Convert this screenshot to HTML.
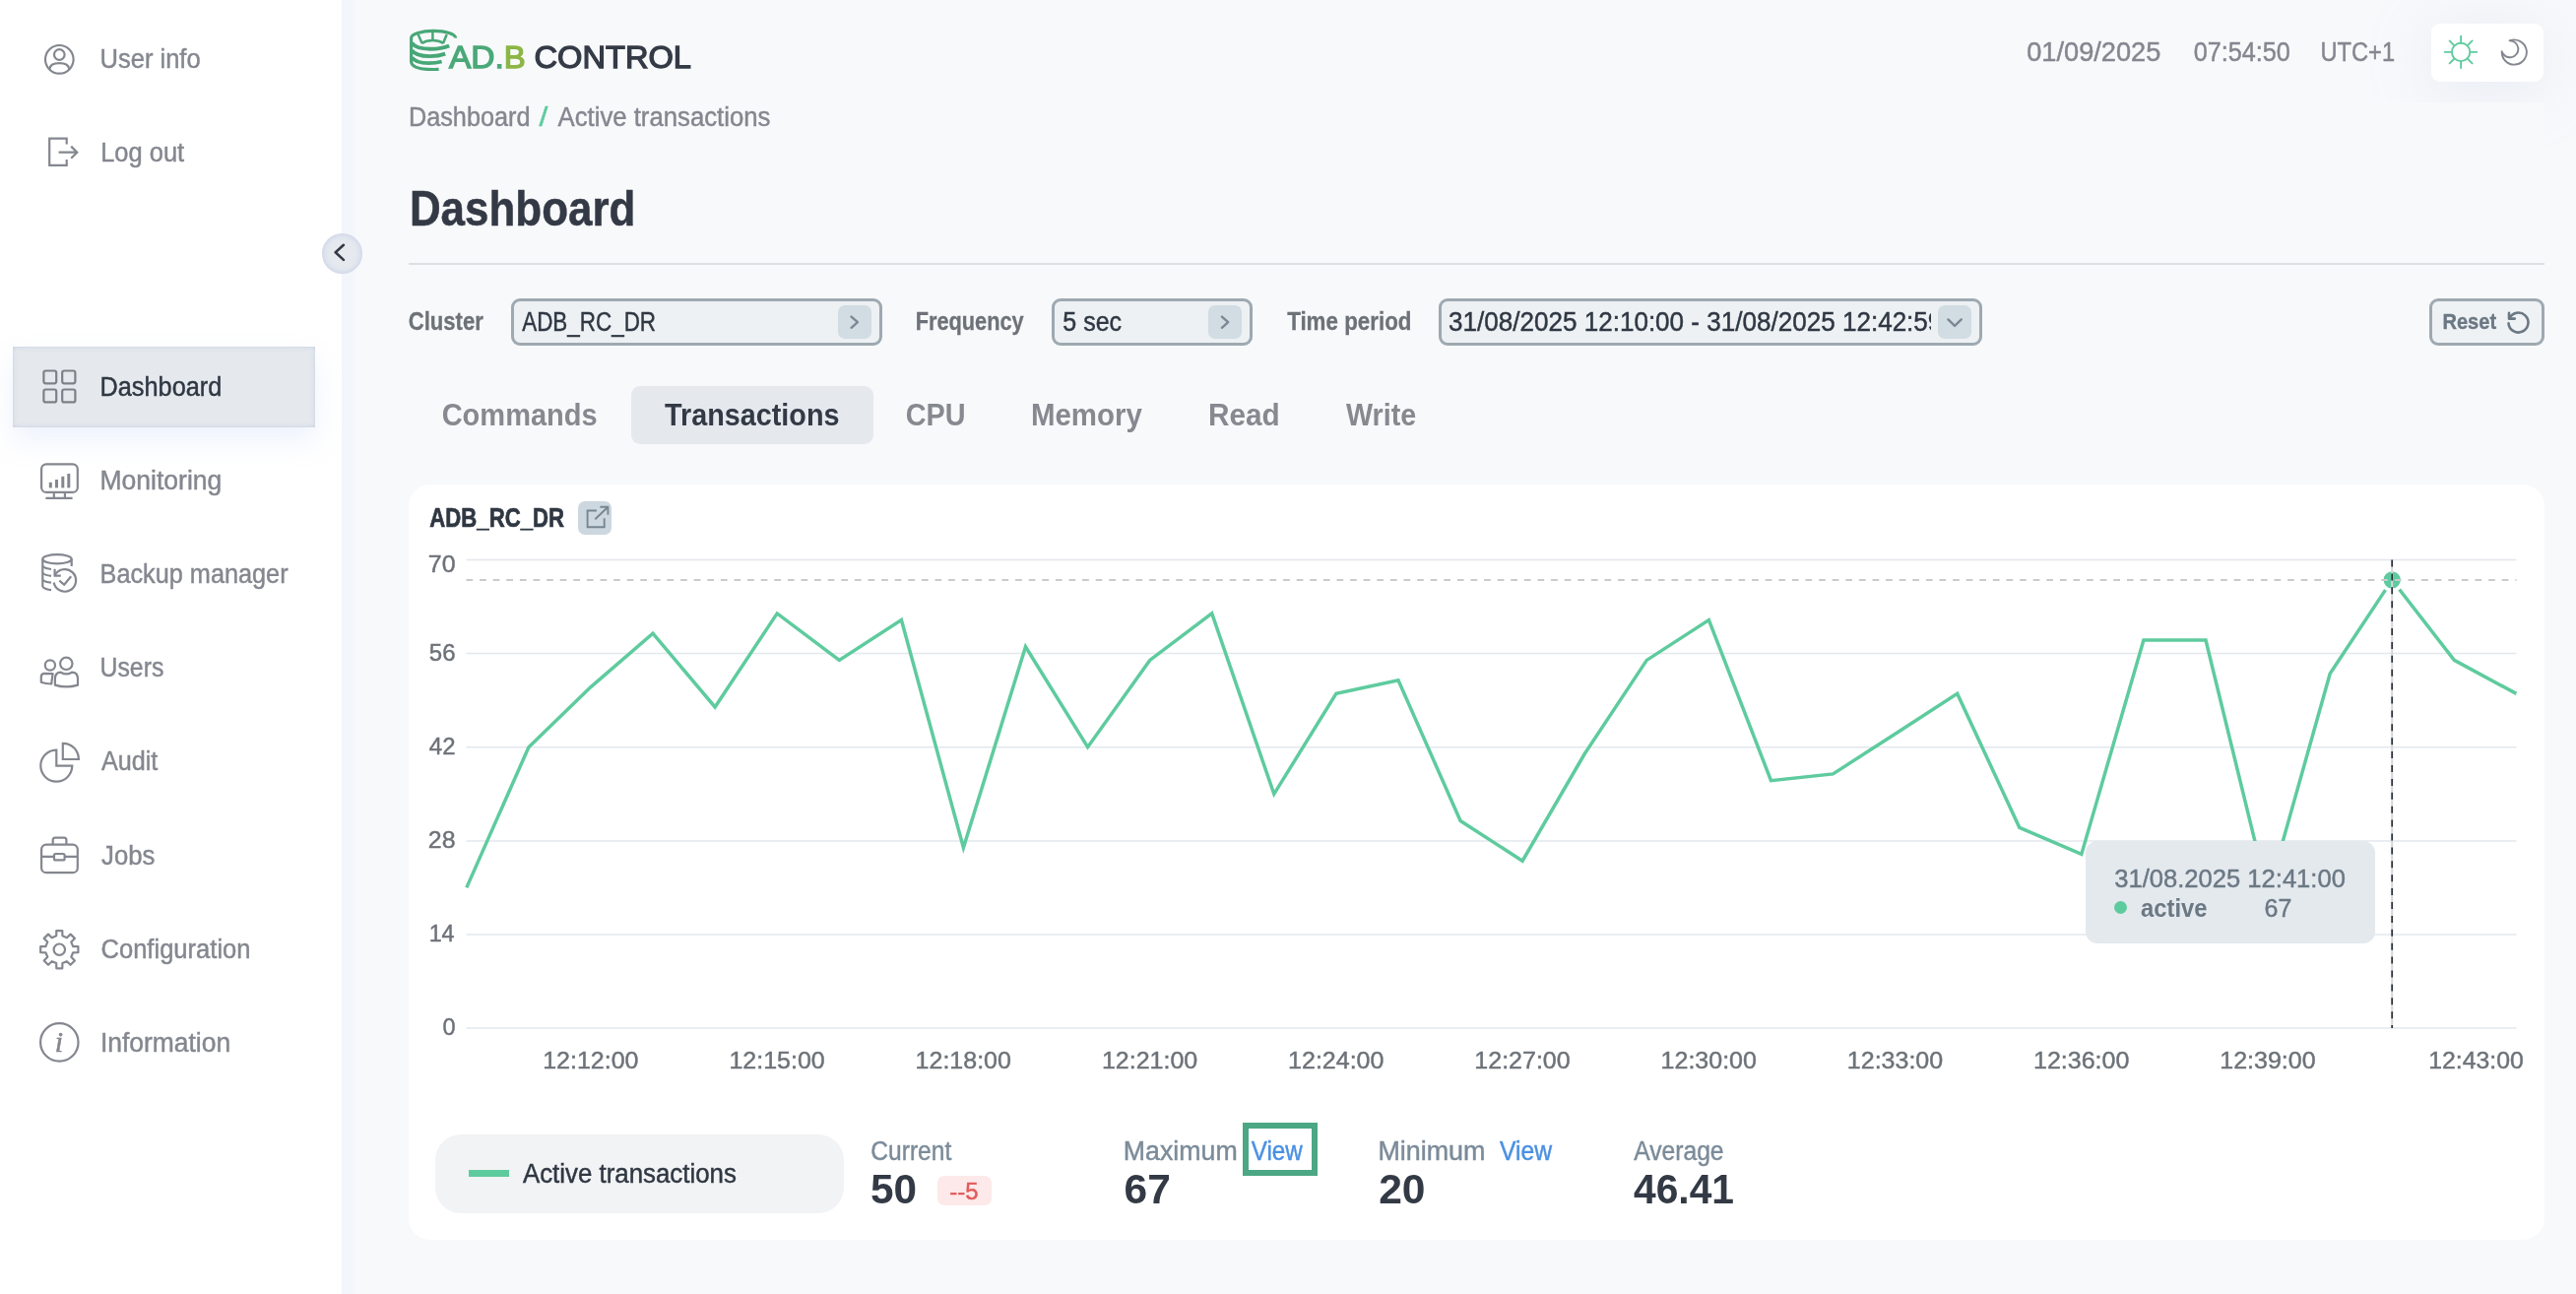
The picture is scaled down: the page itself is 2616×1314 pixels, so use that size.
<!DOCTYPE html>
<html lang="en">
<head>
<meta charset="utf-8">
<title>ADB Control - Dashboard</title>
<style>
*{box-sizing:border-box;margin:0;padding:0}
html,body{width:2616px;height:1314px;overflow:hidden}
body{background:#f8f9fb;font-family:"Liberation Sans",sans-serif;position:relative}
.abs{position:absolute}
#sidebar{left:0;top:0;width:347px;height:1314px;background:#fff}
#sideband{left:347px;top:0;width:15px;height:1314px;background:linear-gradient(to right,#f2f5fa 0,#f3f6fa 75%,#f8f9fb 100%)}
#active{left:13px;top:352px;width:307px;height:82px;background:#e5e9ed;box-shadow:inset 0 0 5px rgba(165,172,218,.45),0 14px 28px rgba(150,175,235,.17)}
#collapse{left:327.1px;top:237.1px;width:40.8px;height:40.8px;border-radius:50%;background:#e6eaef;box-shadow:inset 0 0 7px rgba(168,174,222,.55)}
#hr{left:415px;top:267px;width:2169px;height:2px;background:#dcdfe3}
#mainbg{left:416px;top:104px;width:2168px;height:1210px;background:#f8f9fb}
#toggle{left:2468.9px;top:23.8px;width:114.4px;height:59.5px;border-radius:9px;background:#fff;box-shadow:0 8px 64px rgba(176,193,226,.26)}
.sel{border:3px solid #9ea9b1;border-radius:9px;background:#edf1f4;height:48px;top:303px}
.sbtn{width:34px;height:34px;border-radius:7px;background:#d2dce3;top:310px}
#reset{left:2467px;top:303px;width:117.2px;height:48px;border:3px solid #9ea9b1;border-radius:9px;background:#eff2f5}
#tabact{left:641px;top:392px;width:246px;height:58.5px;border-radius:9px;background:#e5e9ee}
#card{left:415px;top:492px;width:2169px;height:767px;border-radius:22px;background:#fff}
#extbtn{left:587.3px;top:509px;width:33.7px;height:34px;border-radius:7px;background:#cdd7df}
#tip{left:2118px;top:853.7px;width:294.3px;height:104.5px;border-radius:12px;background:#e4e9ee}
#tipdot{left:2147.1px;top:914.6px;width:13px;height:13px;border-radius:50%;background:#5ecb9e}
#legend{left:442px;top:1151.7px;width:415px;height:80.3px;border-radius:26px;background:#f2f3f5}
#legline{left:475.8px;top:1188px;width:41.2px;height:7.4px;background:#5ecb9e}
#badge{left:952px;top:1194px;width:55px;height:29.7px;border-radius:7px;background:#fde9e9}
#viewbox{left:1262px;top:1140px;width:76px;height:54px;border:6px solid #4ca784}
#txt{left:0;top:0;width:2616px;height:1314px;will-change:transform}
svg.ov{position:absolute;left:0;top:0;width:2616px;height:1314px;overflow:visible}
</style>
</head>
<body>
<div id="sidebar" class="abs"></div>
<div id="sideband" class="abs"></div>
<div id="active" class="abs"></div>
<div id="collapse" class="abs"></div>
<div id="toggle" class="abs"></div>
<div id="mainbg" class="abs"></div>
<div id="hr" class="abs"></div>

<div class="abs sel" style="left:519px;width:377px"></div>
<div class="abs sbtn" style="left:851px"></div>
<div class="abs sel" style="left:1067.7px;width:204px"></div>
<div class="abs sbtn" style="left:1227.3px"></div>
<div class="abs sel" style="left:1461.3px;width:551.5px"></div>
<div class="abs sbtn" style="left:1968.2px"></div>
<div id="reset" class="abs"></div>
<div id="tabact" class="abs"></div>

<div id="card" class="abs"></div>
<div id="extbtn" class="abs"></div>
<div id="legend" class="abs"></div>
<div id="legline" class="abs"></div>
<div id="badge" class="abs"></div>
<div id="viewbox" class="abs"></div>

<svg class="ov" viewBox="0 0 2616 1314">
<g id="chart">
<line x1="473.5" y1="568.5" x2="2555.5" y2="568.5" stroke="#e3e8ee" stroke-width="1.5"/>
<line x1="473.5" y1="663.6" x2="2555.5" y2="663.6" stroke="#e3e8ee" stroke-width="1.5"/>
<line x1="473.5" y1="758.7" x2="2555.5" y2="758.7" stroke="#e3e8ee" stroke-width="1.5"/>
<line x1="473.5" y1="853.9" x2="2555.5" y2="853.9" stroke="#e3e8ee" stroke-width="1.5"/>
<line x1="473.5" y1="949.0" x2="2555.5" y2="949.0" stroke="#e3e8ee" stroke-width="1.5"/>
<line x1="473.5" y1="1044.1" x2="2555.5" y2="1044.1" stroke="#e3e8ee" stroke-width="1.5"/>
<polyline points="473.8,901.4 536.9,758.7 600.0,697.6 663.0,643.2 726.1,718.0 789.2,622.9 852.3,670.4 915.4,629.6 978.4,860.7 1041.5,656.8 1104.6,758.7 1167.7,670.4 1230.7,622.9 1293.8,806.3 1356.9,704.4 1420.0,690.8 1483.1,833.5 1546.1,874.2 1609.2,765.5 1672.3,670.4 1735.4,629.6 1798.5,792.7 1861.5,785.9 1924.6,745.2 1987.7,704.4 2050.8,840.3 2113.8,867.4 2176.9,650.0 2240.0,650.0 2303.1,908.2 2366.2,684.0 2429.2,588.9 2492.3,670.4 2555.4,704.4" fill="none" stroke="#5ecb9e" stroke-width="3.5" stroke-linejoin="miter"/>
<circle cx="2429.2" cy="588.9" r="12.3" fill="#fff"/>
<circle cx="2429.2" cy="588.9" r="8.6" fill="#5ecb9e"/>
<line x1="2429.2" y1="568.5" x2="2429.2" y2="1044.1" stroke="#d6d6d6" stroke-width="2"/>
<line x1="2429.2" y1="568.5" x2="2429.2" y2="1044.1" stroke="#2b303a" stroke-width="1.7" stroke-dasharray="7 6.9"/>
<line x1="473.5" y1="588.9" x2="2555.5" y2="588.9" stroke="#cacaca" stroke-width="2" stroke-dasharray="6.7 6.9"/>
</g>
<g id="icons" fill="none" stroke="#84878f" stroke-width="2.2" stroke-linecap="butt" stroke-linejoin="round">
<circle cx="60.3" cy="60.3" r="14.3"/>
<circle cx="60.3" cy="55.5" r="5.3"/>
<path d="M50.3 70.3 C50.6 66.4 54.6 64.1 60.3 64.1 C66 64.1 70 66.4 70.3 70.3"/>
<path d="M67.7 146.6 V140.6 H50.2 V167.8 H67.7 V161.9" stroke-linejoin="miter"/>
<path d="M59.6 154.7 H77.6 M72.2 148.6 L78.3 154.7 L72.2 160.8" stroke-linejoin="miter"/>
<path d="M348.9 248.8 L340.7 256.2 L348.9 263.9" stroke="#333a45" stroke-width="2.6" stroke-linejoin="round" stroke-linecap="round"/>
<g stroke="#7c8189">
<rect x="44.4" y="376.5" width="12.8" height="12.8" rx="2"/>
<rect x="63.2" y="376.5" width="13.2" height="12.8" rx="2"/>
<rect x="44.4" y="395.5" width="12.8" height="12.9" rx="2"/>
<rect x="63.2" y="395.5" width="13.2" height="12.9" rx="2"/>
</g>
<rect x="42.1" y="471.3" width="36.7" height="28.6" rx="5"/>
<path d="M54.8 500 V505.6 M65.9 500 V505.6 M46.4 505.8 H73.6"/>
<g fill="#84878f" stroke="none">
<rect x="49.8" y="489.8" width="3" height="5.6"/>
<rect x="56" y="487" width="3" height="8.4"/>
<rect x="62.3" y="483.8" width="3" height="11.6"/>
<rect x="68.3" y="481" width="3" height="14.4"/>
</g>
<ellipse cx="58" cy="567.8" rx="14.7" ry="4.6"/>
<path d="M43.3 567.8 V596 M72.7 567.8 V575"/>
<path d="M43.3 575.2 Q46 577.4 52 578 M43.3 582 Q46 584.2 52 584.8 M43.3 588.9 Q46 591.1 52 591.7 M43.3 596 Q46 598.4 52 599.2"/>
<path d="M55.6 584.5 A11.3 11.3 0 1 1 54.7 591.5"/>
<path d="M55.6 577.8 V584.6 H61.8" stroke-linejoin="miter"/>
<path d="M60.3 589.6 L65.2 593.8 L72.2 585.3" stroke-linejoin="miter"/>
<circle cx="50.9" cy="675.5" r="5.1"/>
<circle cx="67.3" cy="673.8" r="6.2"/>
<path d="M55.9 695.6 V689.4 Q55.9 682.7 61.9 682.7 A10.3 10.3 0 0 0 72.9 682.7 Q79 682.7 79 689.4 V695.6 Q67.3 699.2 55.9 695.6 Z"/>
<path d="M41.8 692.7 V687.3 Q41.8 683.8 45.3 683.8 L53.6 684.1 L52.2 694.5 Q46.2 694.4 41.8 692.7 Z"/>
<path d="M57.3 777.6 V761.6 A16 16 0 1 0 73.3 777.6 Z" stroke-linejoin="miter"/>
<path d="M63.8 771 V754.8 A16.2 16.2 0 0 1 80 771 Z" stroke-linejoin="miter"/>
<rect x="42.1" y="857.6" width="36.7" height="28.6" rx="5"/>
<path d="M53.7 857.6 V853 Q53.7 850.6 56.1 850.6 H65 Q67.4 850.6 67.4 853 V857.6"/>
<path d="M42.1 869.9 H54.5 M66 869.9 H78.8"/>
<rect x="55" y="867" width="10.6" height="6.4" rx="1.5"/>
<path d="M57.2 950.3 L57.3 945.1 L63.3 945.1 L63.4 950.3 L67.9 952.2 L71.6 948.6 L75.9 952.9 L72.3 956.6 L74.2 961.1 L79.4 961.2 L79.4 967.2 L74.2 967.3 L72.3 971.8 L75.9 975.5 L71.6 979.8 L67.9 976.2 L63.4 978.1 L63.3 983.3 L57.3 983.3 L57.2 978.1 L52.7 976.2 L49.0 979.8 L44.7 975.5 L48.3 971.8 L46.4 967.3 L41.2 967.2 L41.2 961.2 L46.4 961.1 L48.3 956.6 L44.7 952.9 L49.0 948.6 L52.7 952.2Z"/>
<circle cx="60.3" cy="964.2" r="5.7"/>
<circle cx="60.3" cy="1058.4" r="19.2"/>
<g stroke="#48a777" stroke-linecap="butt" stroke-linejoin="round">
<path d="M462.6 38.6 A22.5 7.2 0 0 0 417.6 38.5 V62.7 C417.9 67.8 426 70.3 433.4 70.35 C438 70.5 442 70.5 445.6 70.4" stroke-width="3.1"/>
<path d="M418.3 43.6 C421 48 429 49.75 437.1 49.75 C445 49.75 451.5 48.5 456.2 46.5" stroke-width="3.8"/>
<path d="M418.3 51.1 C421 55.3 429 57.05 436.7 57.05 C443 57.05 448 56.1 452.2 54.6" stroke-width="3.8"/>
<path d="M418.3 58.2 C421 62.4 428 64.1 435 64.1 C440.5 64.1 445 63.5 448.6 62.5" stroke-width="3.8"/>
<path d="M424.6 35 L428.6 44 M439.4 32.3 V40.8 M453.7 35 L450 44" stroke-width="2.5"/>
<path d="M428.3 43.9 C431.5 41.9 435.3 41.1 439.4 41.1 C443.5 41.1 447.2 41.9 450.4 43.9" stroke-width="2.5"/>
</g>
<g stroke="#5ecb9e" stroke-width="1.9" stroke-linecap="round">
<circle cx="2499.1" cy="52.9" r="9.2"/>
<path d="M2509.2 52.9 L2515.3 52.9 M2506.2 60.0 L2510.6 64.4 M2499.1 63.0 L2499.1 69.1 M2492.0 60.0 L2487.6 64.4 M2489.0 52.9 L2482.9 52.9 M2492.0 45.8 L2487.6 41.4 M2499.1 42.8 L2499.1 36.7 M2506.2 45.8 L2510.6 41.4"/>
</g>
<path d="M2548.6 41.3 A12.6 12.6 0 1 1 2540.7 52.2 A8.5 8.5 0 1 0 2548.6 41.3 Z" stroke-width="1.9"/>
<g stroke="#7b8894" stroke-width="2.4" stroke-linejoin="round" stroke-linecap="round">
<path d="M864.6 321.6 L870.9 327.2 L864.6 332.8"/>
<path d="M1240.9 321.6 L1247.2 327.2 L1240.9 332.8"/>
<path d="M1978.4 324.4 L1985.1 330.9 L1991.8 324.4"/>
</g>
<g stroke="#6b7884" stroke-width="2.6" stroke-linecap="round">
<path d="M2548.3 323.5 A10 10 0 1 1 2547.5 328.3"/>
<path d="M2548 317.9 V323.6 H2553.8" stroke-linejoin="round"/>
</g>
<g stroke="#778691" stroke-width="1.9" stroke-linejoin="miter">
<path d="M605.9 518.5 H596.6 V535.3 H613.7 V526.3"/>
<path d="M604.3 527.3 L617.2 515 M609.4 514.8 H617.4 V522.8"/>
</g>

</g>
</svg>

<div id="tip" class="abs"></div>
<div id="tipdot" class="abs"></div>

<div id="txt" class="abs">
<svg class="ov" viewBox="0 0 2616 1314" font-family="'Liberation Sans', sans-serif">
<svg x="1462" y="305" width="499" height="44" viewBox="1462 305 499 44" overflow="hidden">
<text x="1471.03" y="335.8" font-size="26.78" fill="#2f3742" stroke="#2f3742" stroke-width="0.45" textLength="501.33" lengthAdjust="spacingAndGlyphs">31/08/2025 12:10:00 - 31/08/2025 12:42:59</text>
</svg>
<text x="55.8" y="1068" font-size="30" font-family="'Liberation Serif', serif" font-style="italic" font-weight="400" fill="#84878f" stroke="#84878f" stroke-width="0.5">i</text>
<text x="101.52" y="68.7" font-size="26.78" font-weight="400" fill="#84878f" textLength="102.10" lengthAdjust="spacingAndGlyphs" stroke="#84878f" stroke-width="0.45">User info</text>
<text x="102.22" y="163.8" font-size="26.78" font-weight="400" fill="#84878f" textLength="84.92" lengthAdjust="spacingAndGlyphs" stroke="#84878f" stroke-width="0.45">Log out</text>
<text x="101.53" y="401.6" font-size="26.78" font-weight="400" fill="#2f3742" textLength="123.78" lengthAdjust="spacingAndGlyphs" stroke="#2f3742" stroke-width="0.45">Dashboard</text>
<text x="101.44" y="497.2" font-size="26.78" font-weight="400" fill="#84878f" textLength="123.91" lengthAdjust="spacingAndGlyphs" stroke="#84878f" stroke-width="0.45">Monitoring</text>
<text x="101.54" y="591.8" font-size="26.78" font-weight="400" fill="#84878f" textLength="191.06" lengthAdjust="spacingAndGlyphs" stroke="#84878f" stroke-width="0.45">Backup manager</text>
<text x="101.57" y="686.9" font-size="26.78" font-weight="400" fill="#84878f" textLength="64.76" lengthAdjust="spacingAndGlyphs" stroke="#84878f" stroke-width="0.45">Users</text>
<text x="102.92" y="781.8" font-size="26.78" font-weight="400" fill="#84878f" textLength="57.42" lengthAdjust="spacingAndGlyphs" stroke="#84878f" stroke-width="0.45">Audit</text>
<text x="103.12" y="877.7" font-size="26.78" font-weight="400" fill="#84878f" textLength="54.22" lengthAdjust="spacingAndGlyphs" stroke="#84878f" stroke-width="0.45">Jobs</text>
<text x="102.47" y="972.7" font-size="26.78" font-weight="400" fill="#84878f" textLength="152.05" lengthAdjust="spacingAndGlyphs" stroke="#84878f" stroke-width="0.45">Configuration</text>
<text x="101.95" y="1067.9" font-size="26.78" font-weight="400" fill="#84878f" textLength="132.20" lengthAdjust="spacingAndGlyphs" stroke="#84878f" stroke-width="0.45">Information</text>
<text x="414.94" y="128.1" font-size="26.78" font-weight="400" fill="#84878f" textLength="123.57" lengthAdjust="spacingAndGlyphs" stroke="#84878f" stroke-width="0.45">Dashboard</text>
<text x="547.43" y="128.1" font-size="26.78" font-weight="400" fill="#5ecb9e" textLength="8.88" lengthAdjust="spacingAndGlyphs" stroke="#5ecb9e" stroke-width="0.45">/</text>
<text x="566.52" y="128.1" font-size="26.78" font-weight="400" fill="#84878f" textLength="215.92" lengthAdjust="spacingAndGlyphs" stroke="#84878f" stroke-width="0.45">Active transactions</text>
<text x="415.88" y="229.0" font-size="49.44" font-weight="700" fill="#333a45" textLength="229.61" lengthAdjust="spacingAndGlyphs" stroke="#333a45" stroke-width="0.5">Dashboard</text>
<text x="2058.21" y="62.4" font-size="26.78" font-weight="400" fill="#84878f" textLength="136.17" lengthAdjust="spacingAndGlyphs" stroke="#84878f" stroke-width="0.45">01/09/2025</text>
<text x="2227.68" y="62.4" font-size="26.78" font-weight="400" fill="#84878f" textLength="98.13" lengthAdjust="spacingAndGlyphs" stroke="#84878f" stroke-width="0.45">07:54:50</text>
<text x="2356.45" y="62.4" font-size="26.78" font-weight="400" fill="#84878f" textLength="75.70" lengthAdjust="spacingAndGlyphs" stroke="#84878f" stroke-width="0.45">UTC+1</text>
<text x="455.95" y="68.8" font-size="31.93" font-weight="400" fill="#4aa978" textLength="55.81" lengthAdjust="spacingAndGlyphs" stroke="#4aa978" stroke-width="1.3">AD.</text>
<text x="511.68" y="68.8" font-size="31.93" font-weight="400" fill="#8db645" textLength="22.00" lengthAdjust="spacingAndGlyphs" stroke="#8db645" stroke-width="1.3">B</text>
<text x="542.53" y="68.8" font-size="31.93" font-weight="400" fill="#343b46" textLength="159.49" lengthAdjust="spacingAndGlyphs" stroke="#343b46" stroke-width="1.3">CONTROL</text>
<text x="414.69" y="334.9" font-size="25.75" font-weight="700" fill="#6d7278" textLength="76.08" lengthAdjust="spacingAndGlyphs" stroke="#6d7278" stroke-width="0.3">Cluster</text>
<text x="929.71" y="334.9" font-size="25.75" font-weight="700" fill="#6d7278" textLength="109.97" lengthAdjust="spacingAndGlyphs" stroke="#6d7278" stroke-width="0.3">Frequency</text>
<text x="1307.15" y="334.9" font-size="25.75" font-weight="700" fill="#6d7278" textLength="126.33" lengthAdjust="spacingAndGlyphs" stroke="#6d7278" stroke-width="0.3">Time period</text>
<text x="530.23" y="335.8" font-size="26.78" font-weight="400" fill="#2f3742" textLength="135.83" lengthAdjust="spacingAndGlyphs" stroke="#2f3742" stroke-width="0.45">ADB_RC_DR</text>
<text x="1079.29" y="335.8" font-size="26.78" font-weight="400" fill="#2f3742" textLength="59.84" lengthAdjust="spacingAndGlyphs" stroke="#2f3742" stroke-width="0.45">5 sec</text>
<text x="2480.39" y="333.9" font-size="22.66" font-weight="700" fill="#6b7884" textLength="54.73" lengthAdjust="spacingAndGlyphs" stroke="#6b7884" stroke-width="0.35">Reset</text>
<text x="448.66" y="431.7" font-size="30.9" font-weight="700" fill="#86898f" textLength="158.05" lengthAdjust="spacingAndGlyphs">Commands</text>
<text x="675.00" y="431.7" font-size="30.9" font-weight="700" fill="#333a45" textLength="177.50" lengthAdjust="spacingAndGlyphs">Transactions</text>
<text x="919.67" y="431.7" font-size="30.9" font-weight="700" fill="#86898f" textLength="60.85" lengthAdjust="spacingAndGlyphs">CPU</text>
<text x="1046.89" y="431.7" font-size="30.9" font-weight="700" fill="#86898f" textLength="112.92" lengthAdjust="spacingAndGlyphs">Memory</text>
<text x="1227.07" y="431.7" font-size="30.9" font-weight="700" fill="#86898f" textLength="72.73" lengthAdjust="spacingAndGlyphs">Read</text>
<text x="1367.00" y="431.7" font-size="30.9" font-weight="700" fill="#86898f" textLength="71.17" lengthAdjust="spacingAndGlyphs">Write</text>
<text x="436.33" y="535.1" font-size="26.78" font-weight="700" fill="#2f3742" textLength="136.61" lengthAdjust="spacingAndGlyphs" stroke="#2f3742" stroke-width="0.66">ADB_RC_DR</text>
<text x="2147.22" y="900.6" font-size="25.75" font-weight="400" fill="#6b7884" textLength="234.67" lengthAdjust="spacingAndGlyphs" stroke="#6b7884" stroke-width="0.45">31/08.2025 12:41:00</text>
<text x="2174.00" y="930.9" font-size="25.75" font-weight="700" fill="#6b7884" textLength="67.50" lengthAdjust="spacingAndGlyphs">active</text>
<text x="2299.55" y="930.9" font-size="25.75" font-weight="400" fill="#6b7884" textLength="27.83" lengthAdjust="spacingAndGlyphs" stroke="#6b7884" stroke-width="0.45">67</text>
<text x="530.93" y="1201.4" font-size="26.78" font-weight="400" fill="#2f3742" textLength="216.92" lengthAdjust="spacingAndGlyphs" stroke="#2f3742" stroke-width="0.45">Active transactions</text>
<text x="884.31" y="1178.1" font-size="26.78" font-weight="400" fill="#7b8b99" textLength="81.95" lengthAdjust="spacingAndGlyphs" stroke="#7b8b99" stroke-width="0.45">Current</text>
<text x="884.01" y="1222.0" font-size="42.54" font-weight="700" fill="#333a45" textLength="47.04" lengthAdjust="spacingAndGlyphs">50</text>
<text x="964.26" y="1217.9" font-size="24.72" font-weight="400" fill="#e05a5a" textLength="29.24" lengthAdjust="spacingAndGlyphs" stroke="#e05a5a" stroke-width="0.45">--5</text>
<text x="1140.83" y="1178.1" font-size="26.78" font-weight="400" fill="#7b8b99" textLength="115.84" lengthAdjust="spacingAndGlyphs" stroke="#7b8b99" stroke-width="0.45">Maximum</text>
<text x="1141.60" y="1222.0" font-size="42.54" font-weight="700" fill="#333a45" textLength="47.36" lengthAdjust="spacingAndGlyphs">67</text>
<text x="1270.72" y="1178.1" font-size="26.78" font-weight="400" fill="#4a90e2" textLength="52.04" lengthAdjust="spacingAndGlyphs" stroke="#4a90e2" stroke-width="0.45">View</text>
<text x="1399.42" y="1178.1" font-size="26.78" font-weight="400" fill="#7b8b99" textLength="109.06" lengthAdjust="spacingAndGlyphs" stroke="#7b8b99" stroke-width="0.45">Minimum</text>
<text x="1523.02" y="1178.1" font-size="26.78" font-weight="400" fill="#4a90e2" textLength="53.13" lengthAdjust="spacingAndGlyphs" stroke="#4a90e2" stroke-width="0.45">View</text>
<text x="1400.20" y="1222.0" font-size="42.54" font-weight="700" fill="#333a45" textLength="47.36" lengthAdjust="spacingAndGlyphs">20</text>
<text x="1659.22" y="1178.1" font-size="26.78" font-weight="400" fill="#7b8b99" textLength="91.37" lengthAdjust="spacingAndGlyphs" stroke="#7b8b99" stroke-width="0.45">Average</text>
<text x="1659.00" y="1222.0" font-size="42.54" font-weight="700" fill="#333a45" textLength="102.03" lengthAdjust="spacingAndGlyphs">46.41</text>
<text x="434.82" y="581.3" font-size="24.72" font-weight="400" fill="#6d7278" textLength="27.71" lengthAdjust="spacingAndGlyphs" stroke="#6d7278" stroke-width="0.45">70</text>
<text x="435.83" y="670.8" font-size="24.72" font-weight="400" fill="#6d7278" textLength="26.68" lengthAdjust="spacingAndGlyphs" stroke="#6d7278" stroke-width="0.45">56</text>
<text x="435.83" y="765.9" font-size="24.72" font-weight="400" fill="#6d7278" textLength="26.68" lengthAdjust="spacingAndGlyphs" stroke="#6d7278" stroke-width="0.45">42</text>
<text x="434.82" y="861.0" font-size="24.72" font-weight="400" fill="#6d7278" textLength="27.71" lengthAdjust="spacingAndGlyphs" stroke="#6d7278" stroke-width="0.45">28</text>
<text x="435.68" y="956.1" font-size="24.72" font-weight="400" fill="#6d7278" textLength="25.85" lengthAdjust="spacingAndGlyphs" stroke="#6d7278" stroke-width="0.45">14</text>
<text x="449.43" y="1051.2" font-size="24.72" font-weight="400" fill="#6d7278" textLength="13.06" lengthAdjust="spacingAndGlyphs" stroke="#6d7278" stroke-width="0.45">0</text>
<text x="551.17" y="1085.1" font-size="24.72" font-weight="400" fill="#6d7278" textLength="97.32" lengthAdjust="spacingAndGlyphs" stroke="#6d7278" stroke-width="0.45">12:12:00</text>
<text x="740.41" y="1085.1" font-size="24.72" font-weight="400" fill="#6d7278" textLength="97.32" lengthAdjust="spacingAndGlyphs" stroke="#6d7278" stroke-width="0.45">12:15:00</text>
<text x="929.64" y="1085.1" font-size="24.72" font-weight="400" fill="#6d7278" textLength="97.32" lengthAdjust="spacingAndGlyphs" stroke="#6d7278" stroke-width="0.45">12:18:00</text>
<text x="1118.88" y="1085.1" font-size="24.72" font-weight="400" fill="#6d7278" textLength="97.32" lengthAdjust="spacingAndGlyphs" stroke="#6d7278" stroke-width="0.45">12:21:00</text>
<text x="1308.12" y="1085.1" font-size="24.72" font-weight="400" fill="#6d7278" textLength="97.32" lengthAdjust="spacingAndGlyphs" stroke="#6d7278" stroke-width="0.45">12:24:00</text>
<text x="1497.35" y="1085.1" font-size="24.72" font-weight="400" fill="#6d7278" textLength="97.32" lengthAdjust="spacingAndGlyphs" stroke="#6d7278" stroke-width="0.45">12:27:00</text>
<text x="1686.59" y="1085.1" font-size="24.72" font-weight="400" fill="#6d7278" textLength="97.32" lengthAdjust="spacingAndGlyphs" stroke="#6d7278" stroke-width="0.45">12:30:00</text>
<text x="1875.83" y="1085.1" font-size="24.72" font-weight="400" fill="#6d7278" textLength="97.32" lengthAdjust="spacingAndGlyphs" stroke="#6d7278" stroke-width="0.45">12:33:00</text>
<text x="2065.06" y="1085.1" font-size="24.72" font-weight="400" fill="#6d7278" textLength="97.32" lengthAdjust="spacingAndGlyphs" stroke="#6d7278" stroke-width="0.45">12:36:00</text>
<text x="2254.30" y="1085.1" font-size="24.72" font-weight="400" fill="#6d7278" textLength="97.32" lengthAdjust="spacingAndGlyphs" stroke="#6d7278" stroke-width="0.45">12:39:00</text>
<text x="2466.22" y="1085.1" font-size="24.72" font-weight="400" fill="#6d7278" textLength="96.60" lengthAdjust="spacingAndGlyphs" stroke="#6d7278" stroke-width="0.45">12:43:00</text>
</svg>
</div>
</body>
</html>
